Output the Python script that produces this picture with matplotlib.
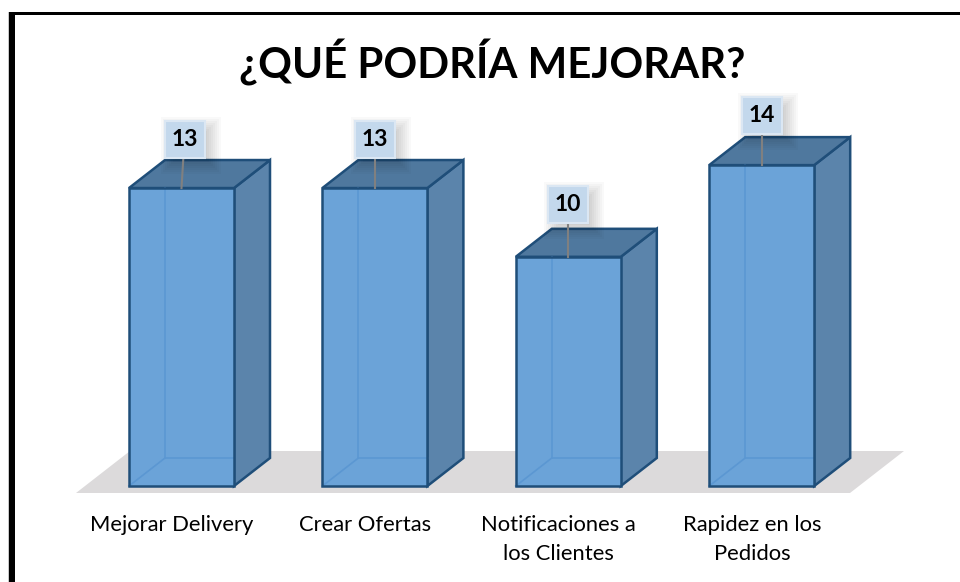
import matplotlib
matplotlib.use("Agg")
import matplotlib.pyplot as plt
from matplotlib.patches import Polygon, Rectangle

plt.rcParams["font.family"] = ["Lato", "DejaVu Sans"]

# data
categories = ["Mejorar Delivery", "Crear Ofertas", "Notificaciones a\nlos Clientes", "Rapidez en los\nPedidos"]
values = [13, 13, 10, 14]
title = "¿QUÉ PODRÍA MEJORAR?"

# pixel layout of the chart
STEP = 193.4
UNIT = 22.92
BASE = 486
CENTER0 = 181.5
W = 105 / STEP
DX = 36 / STEP
DY = 28 / UNIT
TAG_LIFT = [49, 49, 52, 50]
TAG_SHIFT = [3, 0, 0, 0]

FRONT = "#6ba3d8"
SIDE = "#5b84ab"
TOP = "#4f789e"
EDGE = "#1f4e79"
INNER = "#5b97d2"

fig = plt.figure(figsize=(9.6, 5.82), dpi=100)

# overlay in pixels for frame and floor
bg = fig.add_axes([0, 0, 1, 1])
bg.set_xlim(0, 960)
bg.set_ylim(582, 0)
bg.axis("off")
bg.add_patch(Rectangle((8, 12), 1, 570, fc="#c8c8c8", ec="none"))
bg.add_patch(Rectangle((9, 12), 5.5, 570, fc="black", ec="none"))
bg.add_patch(Rectangle((9, 12), 951, 3.3, fc="black", ec="none"))
bg.add_patch(Polygon([(76, 493), (850, 493), (904, 451), (130, 451)], fc="#dcdadb", ec="none"))
bg.text(492, 62, title, fontsize=30.2, fontweight="bold", ha="center", va="center", color="black")

# chart axes, value 0 on the base line
ax = fig.add_axes([0, 0, 1, 1])
ax.patch.set_alpha(0)
ax.set_xlim(-CENTER0 / STEP, (960 - CENTER0) / STEP)
ax.set_ylim(-(582 - BASE) / UNIT, BASE / UNIT)
ax.axis("off")

for i, v in enumerate(values):
    l = i - W / 2
    r = i + W / 2
    ax.add_patch(Polygon([(r, 0), (r + DX, DY), (r + DX, v + DY), (r, v)], fc=SIDE, ec=EDGE, lw=1.8, zorder=3))
    ax.add_patch(Polygon([(l, v), (l + DX, v + DY), (r + DX, v + DY), (r, v)], fc=TOP, ec=EDGE, lw=1.8, zorder=3))
    ax.add_patch(Rectangle((l, 0), W, v, fc=FRONT, ec="none", zorder=3))
    # back lines seen through the box
    ax.plot([l + DX, l + DX], [DY, v], color=INNER, lw=1.2, zorder=4)
    ax.plot([l, l + DX, r], [0, DY, DY], color=INNER, lw=1.2, zorder=4)
    ax.add_patch(Rectangle((l, 0), W, v, fc="none", ec=EDGE, lw=1.8, zorder=6))

    ax.text(i - 0.05, -29 / UNIT, categories[i], fontsize=15.8, ha="center", va="top",
            color="black", linespacing=1.55, zorder=7)

    # value tag on a leader line
    tag_x = i + TAG_SHIFT[i] / STEP
    tag_y = v + TAG_LIFT[i] / UNIT
    hw = 20 / STEP
    hh = 18.5 / UNIT
    for grow in range(-4, 12, 2):
        ax.add_patch(Rectangle((tag_x - hw + 6 / STEP - grow / STEP, tag_y - hh - 6 / UNIT - grow / UNIT),
                               2 * hw + 2 * grow / STEP, 2 * hh + 2 * grow / UNIT,
                               fc="black", ec="none", alpha=0.022, zorder=6.5))
    ax.plot([tag_x, i], [tag_y, v], color="#808080", lw=1.5, zorder=7)
    ax.add_patch(Rectangle((tag_x - hw, tag_y - hh), 2 * hw, 2 * hh, fc="#c3d8ec", ec="#dbe7f3", lw=1.5, zorder=8))
    ax.text(tag_x, tag_y, str(v), fontsize=16.5, fontweight="bold", ha="center", va="center", color="black", zorder=9)

fig.savefig("out.png", dpi=100)
